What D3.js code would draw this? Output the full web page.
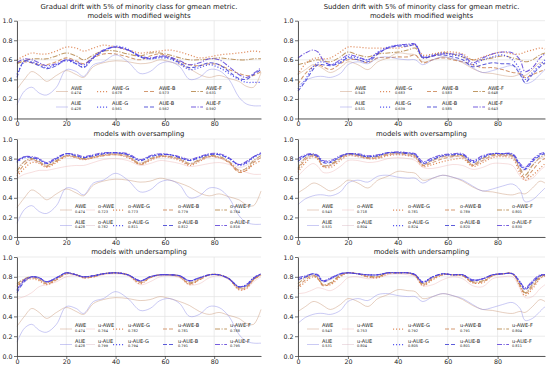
<!DOCTYPE html>
<html>
<head>
<meta charset="utf-8">
<script src="https://cdn.jsdelivr.net/npm/d3@7"></script>
<style>
  body { margin: 0; background: #fff; }
  text { font-family: "DejaVu Sans", sans-serif; }
</style>
</head>
<body>
<svg id="chart" width="550" height="367"></svg>
<script>
// x positions (drift chunk index) of the sampled points
const xGradual = [0, 3, 6, 9, 12, 16, 20, 24, 27, 31, 35, 40, 45, 50, 54, 58, 62, 66, 70, 74, 78, 82, 86, 90, 93, 96, 99];
const xSudden = [0, 3, 6, 8, 10, 13, 17, 20, 24, 28, 32, 36, 40, 44, 47, 50, 54, 58, 62, 66, 70, 74, 78, 82, 86, 89, 91, 94, 97, 99];
const xTicks = [0, 20, 40, 60, 80];
const yTicks = [0, 0.2, 0.4, 0.6, 0.8, 1.0];

const titles = [
  ['Gradual drift with 5% of minority class for gmean metric.', 'models with modified weights'],
  ['Sudden drift with 5% of minority class for gmean metric.', 'models with modified weights'],
  ['models with oversampling'],
  ['models with oversampling'],
  ['models with undersampling'],
  ['models with undersampling'],
];

// gradual drift, base models
const gAWE = [0.30, 0.40, 0.48, 0.44, 0.38, 0.44, 0.49, 0.45, 0.42, 0.53, 0.57, 0.59, 0.58, 0.56, 0.57, 0.60, 0.58, 0.55, 0.51, 0.45, 0.42, 0.44, 0.41, 0.38, 0.33, 0.32, 0.47];
const gAUE = [0.14, 0.28, 0.32, 0.26, 0.24, 0.32, 0.50, 0.48, 0.43, 0.55, 0.58, 0.65, 0.58, 0.46, 0.48, 0.56, 0.58, 0.53, 0.40, 0.42, 0.50, 0.49, 0.40, 0.22, 0.15, 0.13, 0.13];
// gradual drift, modified weights
const gAWE_G = [0.60, 0.64, 0.67, 0.66, 0.66, 0.69, 0.73, 0.72, 0.69, 0.72, 0.75, 0.73, 0.70, 0.67, 0.68, 0.69, 0.70, 0.68, 0.65, 0.62, 0.63, 0.65, 0.66, 0.67, 0.68, 0.69, 0.68];
const gAWE_B = [0.57, 0.58, 0.57, 0.55, 0.55, 0.58, 0.62, 0.59, 0.56, 0.62, 0.66, 0.66, 0.63, 0.60, 0.64, 0.66, 0.63, 0.58, 0.55, 0.54, 0.56, 0.55, 0.50, 0.46, 0.44, 0.44, 0.48];
const gAWE_F = [0.56, 0.59, 0.61, 0.61, 0.61, 0.64, 0.67, 0.64, 0.60, 0.65, 0.69, 0.69, 0.66, 0.64, 0.67, 0.67, 0.65, 0.62, 0.60, 0.60, 0.61, 0.62, 0.61, 0.60, 0.60, 0.61, 0.61];
const gAUE_G = [0.45, 0.58, 0.58, 0.55, 0.52, 0.55, 0.59, 0.56, 0.53, 0.62, 0.69, 0.74, 0.71, 0.63, 0.61, 0.62, 0.61, 0.56, 0.50, 0.52, 0.55, 0.52, 0.46, 0.40, 0.37, 0.37, 0.37];
const gAUE_B = [0.42, 0.59, 0.57, 0.54, 0.51, 0.54, 0.60, 0.56, 0.52, 0.62, 0.69, 0.73, 0.70, 0.63, 0.61, 0.63, 0.62, 0.57, 0.52, 0.54, 0.57, 0.55, 0.48, 0.41, 0.40, 0.45, 0.50];
const gAUE_F = [0.57, 0.61, 0.60, 0.57, 0.54, 0.56, 0.60, 0.58, 0.55, 0.63, 0.70, 0.73, 0.70, 0.64, 0.62, 0.64, 0.63, 0.59, 0.55, 0.57, 0.61, 0.60, 0.53, 0.45, 0.42, 0.46, 0.52];
// gradual drift, oversampling
const gOAWE = [0.60, 0.64, 0.66, 0.68, 0.68, 0.70, 0.72, 0.73, 0.73, 0.76, 0.79, 0.80, 0.78, 0.73, 0.75, 0.78, 0.77, 0.75, 0.72, 0.73, 0.75, 0.76, 0.74, 0.69, 0.66, 0.64, 0.64];
const gOAUE = [0.70, 0.77, 0.78, 0.76, 0.74, 0.79, 0.83, 0.81, 0.79, 0.82, 0.84, 0.85, 0.82, 0.76, 0.79, 0.83, 0.82, 0.79, 0.75, 0.78, 0.82, 0.81, 0.77, 0.71, 0.73, 0.78, 0.81];
const gOAWE_G = [0.62, 0.70, 0.76, 0.75, 0.71, 0.76, 0.82, 0.81, 0.79, 0.81, 0.83, 0.84, 0.81, 0.74, 0.78, 0.82, 0.81, 0.78, 0.73, 0.77, 0.82, 0.81, 0.76, 0.67, 0.68, 0.74, 0.78];
const gOAWE_B = [0.64, 0.74, 0.79, 0.76, 0.72, 0.77, 0.83, 0.81, 0.79, 0.81, 0.83, 0.84, 0.82, 0.74, 0.79, 0.82, 0.82, 0.79, 0.74, 0.78, 0.82, 0.81, 0.76, 0.66, 0.68, 0.76, 0.81];
const gOAWE_F = [0.67, 0.77, 0.80, 0.77, 0.73, 0.78, 0.83, 0.82, 0.80, 0.82, 0.84, 0.85, 0.83, 0.75, 0.80, 0.83, 0.82, 0.80, 0.75, 0.79, 0.83, 0.82, 0.77, 0.68, 0.70, 0.78, 0.83];
const gOAUE_G = [0.76, 0.81, 0.81, 0.79, 0.75, 0.80, 0.85, 0.83, 0.81, 0.83, 0.85, 0.86, 0.84, 0.78, 0.82, 0.84, 0.84, 0.81, 0.78, 0.81, 0.84, 0.84, 0.80, 0.73, 0.75, 0.81, 0.85];
const gOAUE_B = [0.77, 0.82, 0.81, 0.79, 0.75, 0.80, 0.85, 0.83, 0.81, 0.83, 0.85, 0.86, 0.84, 0.78, 0.82, 0.84, 0.84, 0.81, 0.78, 0.81, 0.84, 0.84, 0.80, 0.74, 0.76, 0.82, 0.85];
const gOAUE_F = [0.78, 0.82, 0.82, 0.80, 0.76, 0.81, 0.85, 0.84, 0.82, 0.84, 0.86, 0.86, 0.85, 0.79, 0.83, 0.85, 0.84, 0.82, 0.79, 0.82, 0.85, 0.85, 0.81, 0.74, 0.77, 0.82, 0.86];
// gradual drift, undersampling
const gUAWE = [0.58, 0.60, 0.64, 0.70, 0.72, 0.75, 0.80, 0.81, 0.79, 0.80, 0.82, 0.83, 0.81, 0.72, 0.75, 0.80, 0.81, 0.79, 0.72, 0.73, 0.79, 0.81, 0.77, 0.67, 0.68, 0.75, 0.80];
const gUAUE = [0.68, 0.76, 0.79, 0.78, 0.74, 0.78, 0.83, 0.82, 0.80, 0.81, 0.83, 0.84, 0.82, 0.75, 0.80, 0.82, 0.82, 0.80, 0.75, 0.78, 0.82, 0.82, 0.78, 0.70, 0.72, 0.79, 0.83];
const gUAWE_G = [0.70, 0.76, 0.78, 0.76, 0.72, 0.77, 0.83, 0.82, 0.79, 0.80, 0.83, 0.84, 0.82, 0.73, 0.79, 0.82, 0.82, 0.80, 0.72, 0.77, 0.82, 0.82, 0.78, 0.67, 0.68, 0.77, 0.82];
const gUAWE_B = [0.71, 0.77, 0.79, 0.77, 0.73, 0.77, 0.83, 0.82, 0.79, 0.80, 0.83, 0.84, 0.82, 0.74, 0.79, 0.82, 0.82, 0.80, 0.73, 0.77, 0.82, 0.82, 0.78, 0.68, 0.69, 0.77, 0.82];
const gUAWE_F = [0.73, 0.78, 0.80, 0.78, 0.74, 0.78, 0.84, 0.82, 0.80, 0.81, 0.83, 0.84, 0.82, 0.75, 0.80, 0.82, 0.82, 0.81, 0.74, 0.78, 0.82, 0.82, 0.78, 0.69, 0.70, 0.78, 0.82];
const gUAUE_G = [0.66, 0.76, 0.80, 0.79, 0.75, 0.79, 0.84, 0.82, 0.80, 0.81, 0.83, 0.84, 0.82, 0.76, 0.80, 0.82, 0.82, 0.81, 0.76, 0.79, 0.82, 0.82, 0.78, 0.70, 0.72, 0.79, 0.83];
const gUAUE_B = [0.64, 0.75, 0.80, 0.79, 0.75, 0.79, 0.84, 0.82, 0.80, 0.81, 0.83, 0.84, 0.82, 0.76, 0.80, 0.82, 0.82, 0.81, 0.76, 0.79, 0.82, 0.82, 0.78, 0.70, 0.71, 0.78, 0.83];
const gUAUE_F = [0.67, 0.77, 0.80, 0.79, 0.75, 0.79, 0.84, 0.82, 0.80, 0.81, 0.83, 0.84, 0.82, 0.76, 0.80, 0.82, 0.82, 0.81, 0.76, 0.79, 0.82, 0.82, 0.78, 0.70, 0.72, 0.79, 0.83];

// sudden drift, base models
const sAWE = [0.45, 0.50, 0.55, 0.54, 0.51, 0.47, 0.52, 0.58, 0.55, 0.50, 0.58, 0.62, 0.67, 0.66, 0.65, 0.58, 0.60, 0.63, 0.61, 0.57, 0.51, 0.47, 0.46, 0.44, 0.43, 0.45, 0.44, 0.50, 0.57, 0.55];
const sAUE = [0.33, 0.39, 0.42, 0.43, 0.43, 0.42, 0.46, 0.55, 0.58, 0.56, 0.62, 0.63, 0.61, 0.60, 0.60, 0.55, 0.60, 0.63, 0.61, 0.58, 0.52, 0.47, 0.49, 0.52, 0.54, 0.48, 0.36, 0.38, 0.45, 0.50];
// sudden drift, modified weights
const sAWE_G = [0.45, 0.56, 0.61, 0.62, 0.61, 0.62, 0.68, 0.73, 0.73, 0.72, 0.72, 0.72, 0.72, 0.74, 0.75, 0.65, 0.66, 0.68, 0.68, 0.66, 0.60, 0.63, 0.66, 0.68, 0.66, 0.66, 0.68, 0.70, 0.72, 0.71];
const sAWE_B = [0.35, 0.46, 0.53, 0.55, 0.53, 0.50, 0.56, 0.60, 0.60, 0.57, 0.62, 0.62, 0.63, 0.63, 0.65, 0.57, 0.60, 0.62, 0.60, 0.58, 0.55, 0.52, 0.52, 0.50, 0.47, 0.46, 0.42, 0.45, 0.48, 0.50];
const sAWE_F = [0.55, 0.57, 0.59, 0.60, 0.59, 0.58, 0.63, 0.68, 0.65, 0.63, 0.66, 0.67, 0.68, 0.70, 0.72, 0.62, 0.64, 0.67, 0.66, 0.63, 0.60, 0.60, 0.62, 0.64, 0.62, 0.60, 0.58, 0.60, 0.65, 0.67];
const sAUE_G = [0.30, 0.40, 0.53, 0.57, 0.58, 0.55, 0.58, 0.63, 0.62, 0.60, 0.68, 0.73, 0.75, 0.75, 0.76, 0.63, 0.65, 0.67, 0.65, 0.63, 0.55, 0.60, 0.63, 0.65, 0.60, 0.50, 0.40, 0.47, 0.55, 0.60];
const sAUE_B = [0.28, 0.38, 0.50, 0.55, 0.55, 0.54, 0.57, 0.62, 0.60, 0.58, 0.66, 0.72, 0.74, 0.74, 0.75, 0.62, 0.64, 0.65, 0.63, 0.60, 0.53, 0.55, 0.57, 0.56, 0.55, 0.45, 0.37, 0.45, 0.53, 0.57];
const sAUE_F = [0.62, 0.67, 0.70, 0.68, 0.60, 0.55, 0.60, 0.65, 0.63, 0.60, 0.67, 0.72, 0.75, 0.76, 0.76, 0.63, 0.64, 0.66, 0.66, 0.65, 0.57, 0.62, 0.66, 0.68, 0.67, 0.60, 0.48, 0.52, 0.62, 0.66];
// sudden drift, oversampling
const sOAWE = [0.62, 0.70, 0.75, 0.72, 0.66, 0.66, 0.72, 0.78, 0.78, 0.76, 0.77, 0.80, 0.81, 0.80, 0.78, 0.71, 0.70, 0.72, 0.74, 0.73, 0.69, 0.71, 0.75, 0.75, 0.73, 0.62, 0.58, 0.60, 0.68, 0.72];
const sOAUE = [0.75, 0.80, 0.82, 0.80, 0.73, 0.73, 0.79, 0.83, 0.82, 0.80, 0.82, 0.84, 0.84, 0.83, 0.81, 0.74, 0.78, 0.82, 0.82, 0.81, 0.74, 0.78, 0.82, 0.83, 0.82, 0.70, 0.68, 0.74, 0.80, 0.82];
const sOAWE_G = [0.66, 0.76, 0.82, 0.79, 0.72, 0.71, 0.78, 0.83, 0.82, 0.80, 0.80, 0.83, 0.84, 0.83, 0.81, 0.72, 0.74, 0.77, 0.79, 0.80, 0.72, 0.76, 0.81, 0.82, 0.80, 0.65, 0.58, 0.63, 0.70, 0.75];
const sOAWE_B = [0.68, 0.79, 0.83, 0.80, 0.72, 0.73, 0.80, 0.84, 0.83, 0.80, 0.81, 0.84, 0.85, 0.84, 0.82, 0.73, 0.76, 0.80, 0.82, 0.82, 0.73, 0.78, 0.83, 0.83, 0.82, 0.68, 0.60, 0.68, 0.77, 0.80];
const sOAWE_F = [0.70, 0.81, 0.84, 0.81, 0.73, 0.74, 0.81, 0.85, 0.84, 0.81, 0.82, 0.85, 0.86, 0.85, 0.83, 0.74, 0.78, 0.82, 0.83, 0.83, 0.74, 0.80, 0.84, 0.84, 0.83, 0.70, 0.63, 0.73, 0.81, 0.84];
const sOAUE_G = [0.78, 0.83, 0.84, 0.82, 0.77, 0.77, 0.82, 0.85, 0.84, 0.82, 0.83, 0.86, 0.86, 0.86, 0.84, 0.76, 0.80, 0.83, 0.84, 0.84, 0.77, 0.82, 0.85, 0.85, 0.84, 0.74, 0.70, 0.78, 0.84, 0.86];
const sOAUE_B = [0.77, 0.83, 0.84, 0.82, 0.76, 0.76, 0.82, 0.85, 0.84, 0.82, 0.83, 0.86, 0.86, 0.85, 0.84, 0.75, 0.79, 0.83, 0.84, 0.84, 0.76, 0.81, 0.85, 0.85, 0.84, 0.73, 0.69, 0.77, 0.83, 0.85];
const sOAUE_F = [0.80, 0.84, 0.85, 0.83, 0.78, 0.78, 0.83, 0.85, 0.85, 0.83, 0.84, 0.86, 0.87, 0.86, 0.85, 0.77, 0.81, 0.84, 0.85, 0.85, 0.78, 0.83, 0.85, 0.85, 0.85, 0.75, 0.71, 0.79, 0.85, 0.86];
// sudden drift, undersampling
const sUAWE = [0.63, 0.64, 0.67, 0.69, 0.68, 0.66, 0.72, 0.79, 0.80, 0.78, 0.79, 0.82, 0.83, 0.82, 0.80, 0.71, 0.72, 0.77, 0.80, 0.78, 0.71, 0.70, 0.78, 0.80, 0.80, 0.68, 0.59, 0.60, 0.68, 0.72];
const sUAUE = [0.76, 0.79, 0.82, 0.80, 0.75, 0.77, 0.82, 0.84, 0.83, 0.82, 0.82, 0.84, 0.84, 0.84, 0.82, 0.74, 0.79, 0.83, 0.82, 0.82, 0.76, 0.78, 0.82, 0.83, 0.83, 0.74, 0.68, 0.74, 0.81, 0.82];
const sUAWE_G = [0.68, 0.75, 0.80, 0.78, 0.72, 0.72, 0.80, 0.84, 0.83, 0.80, 0.79, 0.83, 0.84, 0.84, 0.81, 0.71, 0.77, 0.82, 0.82, 0.81, 0.74, 0.74, 0.81, 0.83, 0.83, 0.70, 0.61, 0.68, 0.78, 0.81];
const sUAWE_B = [0.70, 0.77, 0.81, 0.78, 0.71, 0.73, 0.81, 0.84, 0.83, 0.80, 0.80, 0.84, 0.84, 0.84, 0.81, 0.72, 0.78, 0.82, 0.82, 0.81, 0.74, 0.75, 0.81, 0.83, 0.83, 0.71, 0.63, 0.70, 0.79, 0.82];
const sUAWE_F = [0.73, 0.79, 0.82, 0.79, 0.72, 0.74, 0.82, 0.84, 0.83, 0.81, 0.80, 0.84, 0.84, 0.84, 0.82, 0.73, 0.79, 0.83, 0.82, 0.82, 0.75, 0.76, 0.82, 0.83, 0.83, 0.72, 0.64, 0.72, 0.80, 0.82];
const sUAUE_G = [0.78, 0.80, 0.83, 0.81, 0.76, 0.78, 0.83, 0.84, 0.83, 0.82, 0.82, 0.84, 0.84, 0.84, 0.82, 0.75, 0.80, 0.83, 0.82, 0.82, 0.77, 0.78, 0.82, 0.83, 0.83, 0.75, 0.68, 0.75, 0.81, 0.82];
const sUAUE_B = [0.77, 0.80, 0.83, 0.81, 0.75, 0.78, 0.83, 0.84, 0.83, 0.82, 0.82, 0.84, 0.84, 0.84, 0.82, 0.74, 0.80, 0.83, 0.82, 0.82, 0.76, 0.78, 0.82, 0.83, 0.83, 0.74, 0.67, 0.74, 0.81, 0.82];
const sUAUE_F = [0.79, 0.81, 0.83, 0.82, 0.76, 0.79, 0.83, 0.84, 0.83, 0.82, 0.82, 0.84, 0.84, 0.84, 0.82, 0.75, 0.80, 0.83, 0.82, 0.82, 0.77, 0.78, 0.82, 0.83, 0.83, 0.75, 0.69, 0.76, 0.82, 0.82];

// mean scores shown in the legends
const meansGradualMW = { AWE: 0.474, 'AWE-G': 0.678, 'AWE-B': 0.573, 'AWE-F': 0.631, AUE: 0.428, 'AUE-G': 0.561, 'AUE-B': 0.562, 'AUE-F': 0.592 };
const meansSuddenMW = { AWE: 0.543, 'AWE-G': 0.683, 'AWE-B': 0.583, 'AWE-F': 0.648, AUE: 0.531, 'AUE-G': 0.639, 'AUE-B': 0.585, 'AUE-F': 0.643 };
const meansGradualO = { AWE: 0.474, 'o-AWE': 0.723, 'o-AWE-G': 0.773, 'o-AWE-B': 0.779, 'o-AWE-F': 0.784, AUE: 0.428, 'o-AUE': 0.782, 'o-AUE-G': 0.811, 'o-AUE-B': 0.812, 'o-AUE-F': 0.816 };
const meansSuddenO = { AWE: 0.543, 'o-AWE': 0.718, 'o-AWE-G': 0.781, 'o-AWE-B': 0.789, 'o-AWE-F': 0.801, AUE: 0.531, 'o-AUE': 0.804, 'o-AUE-G': 0.824, 'o-AUE-B': 0.820, 'o-AUE-F': 0.830 };
const meansGradualU = { AWE: 0.474, 'u-AWE': 0.764, 'u-AWE-G': 0.782, 'u-AWE-B': 0.781, 'u-AWE-F': 0.788, AUE: 0.428, 'u-AUE': 0.799, 'u-AUE-G': 0.794, 'u-AUE-B': 0.791, 'u-AUE-F': 0.795 };
const meansSuddenU = { AWE: 0.543, 'u-AWE': 0.753, 'u-AWE-G': 0.792, 'u-AWE-B': 0.791, 'u-AWE-F': 0.804, AUE: 0.531, 'u-AUE': 0.804, 'u-AUE-G': 0.805, 'u-AUE-B': 0.801, 'u-AUE-F': 0.811 };

// line look per family (AWE / AUE) and variant
const lineStyles = {
  AWE: {
    base: { color: '#c89474', dash: null, width: 1, opacity: 0.45 },
    plain: { color: '#e8a4a4', dash: null, width: 1, opacity: 0.35 },
    G: { color: '#dc7a44', dash: '1.1,1.9', width: 1.25, opacity: 0.85 },
    B: { color: '#c9804e', dash: '4,2', width: 1.05, opacity: 0.8 },
    F: { color: '#b08040', dash: '5,1.5,1.2,1.5', width: 1.05, opacity: 0.8 },
  },
  AUE: {
    base: { color: '#8a8ae6', dash: null, width: 1, opacity: 0.45 },
    plain: { color: '#d4b0bc', dash: null, width: 1, opacity: 0.4 },
    G: { color: '#3a3aee', dash: '1.1,1.9', width: 1.25, opacity: 0.85 },
    B: { color: '#4040d4', dash: '4,2', width: 1.05, opacity: 0.85 },
    F: { color: '#5e42d8', dash: '5,1.5,1.2,1.5', width: 1.05, opacity: 0.85 },
  },
};

const colX = [[17, 261], [298, 545]];
const rowY = [[20.7, 118.5], [139, 237], [257, 356]];
const titleY = [[8.5, 17.5], [135.5], [253.5]];
const legendTextX = [
  [[71, 112, 159, 206], [355, 395, 442, 488]],
  [[75, 98, 128, 178, 230], [322, 357, 408, 460, 512]],
  [[75, 98, 128, 178, 230], [322, 357, 408, 460, 512]],
];

const mk = (label, family, variant, values, means) => ({ label, family, variant, values, mean: means[label] });

const panels = [
  {
    row: 0, col: 0, xs: xGradual, title: titles[0],
    legend: [['AWE', 'AUE'], ['AWE-G', 'AUE-G'], ['AWE-B', 'AUE-B'], ['AWE-F', 'AUE-F']],
    series: [
      mk('AWE', 'AWE', 'base', gAWE, meansGradualMW), mk('AUE', 'AUE', 'base', gAUE, meansGradualMW),
      mk('AWE-G', 'AWE', 'G', gAWE_G, meansGradualMW), mk('AWE-B', 'AWE', 'B', gAWE_B, meansGradualMW),
      mk('AWE-F', 'AWE', 'F', gAWE_F, meansGradualMW), mk('AUE-G', 'AUE', 'G', gAUE_G, meansGradualMW),
      mk('AUE-B', 'AUE', 'B', gAUE_B, meansGradualMW), mk('AUE-F', 'AUE', 'F', gAUE_F, meansGradualMW),
    ],
  },
  {
    row: 0, col: 1, xs: xSudden, title: titles[1],
    legend: [['AWE', 'AUE'], ['AWE-G', 'AUE-G'], ['AWE-B', 'AUE-B'], ['AWE-F', 'AUE-F']],
    series: [
      mk('AWE', 'AWE', 'base', sAWE, meansSuddenMW), mk('AUE', 'AUE', 'base', sAUE, meansSuddenMW),
      mk('AWE-G', 'AWE', 'G', sAWE_G, meansSuddenMW), mk('AWE-B', 'AWE', 'B', sAWE_B, meansSuddenMW),
      mk('AWE-F', 'AWE', 'F', sAWE_F, meansSuddenMW), mk('AUE-G', 'AUE', 'G', sAUE_G, meansSuddenMW),
      mk('AUE-B', 'AUE', 'B', sAUE_B, meansSuddenMW), mk('AUE-F', 'AUE', 'F', sAUE_F, meansSuddenMW),
    ],
  },
];

function resampledPanel(row, col, xs, title, prefix, means, base, sets) {
  const [awe, aue, aweG, aweB, aweF, aueG, aueB, aueF] = sets;
  const p = prefix;
  return {
    row, col, xs, title,
    legend: [['AWE', 'AUE'], [p + 'AWE', p + 'AUE'], [p + 'AWE-G', p + 'AUE-G'], [p + 'AWE-B', p + 'AUE-B'], [p + 'AWE-F', p + 'AUE-F']],
    series: [
      mk('AWE', 'AWE', 'base', base[0], means), mk('AUE', 'AUE', 'base', base[1], means),
      mk(p + 'AWE', 'AWE', 'plain', awe, means), mk(p + 'AUE', 'AUE', 'plain', aue, means),
      mk(p + 'AWE-G', 'AWE', 'G', aweG, means), mk(p + 'AWE-B', 'AWE', 'B', aweB, means),
      mk(p + 'AWE-F', 'AWE', 'F', aweF, means), mk(p + 'AUE-G', 'AUE', 'G', aueG, means),
      mk(p + 'AUE-B', 'AUE', 'B', aueB, means), mk(p + 'AUE-F', 'AUE', 'F', aueF, means),
    ],
  };
}

panels.push(resampledPanel(1, 0, xGradual, titles[2], 'o-', meansGradualO, [gAWE, gAUE],
  [gOAWE, gOAUE, gOAWE_G, gOAWE_B, gOAWE_F, gOAUE_G, gOAUE_B, gOAUE_F]));
panels.push(resampledPanel(1, 1, xSudden, titles[3], 'o-', meansSuddenO, [sAWE, sAUE],
  [sOAWE, sOAUE, sOAWE_G, sOAWE_B, sOAWE_F, sOAUE_G, sOAUE_B, sOAUE_F]));
panels.push(resampledPanel(2, 0, xGradual, titles[4], 'u-', meansGradualU, [gAWE, gAUE],
  [gUAWE, gUAUE, gUAWE_G, gUAWE_B, gUAWE_F, gUAUE_G, gUAUE_B, gUAUE_F]));
panels.push(resampledPanel(2, 1, xSudden, titles[5], 'u-', meansSuddenU, [sAWE, sAUE],
  [sUAWE, sUAUE, sUAWE_G, sUAWE_B, sUAWE_F, sUAUE_G, sUAUE_B, sUAUE_F]));

const svg = d3.select('#chart');

const applyStroke = (sel, st) =>
  sel
    .attr('fill', 'none')
    .attr('stroke', st.color)
    .attr('stroke-width', st.width)
    .attr('stroke-opacity', st.opacity)
    .attr('stroke-dasharray', st.dash);

const drawPanel = (p) => {
  const [x0, x1] = colX[p.col];
  const [yTop, yBot] = rowY[p.row];
  const x = d3.scaleLinear().domain([0, 99]).range([x0, x1]);
  const y = d3.scaleLinear().domain([0, 1]).range([yBot, yTop]);
  const g = svg.append('g');

  // grid
  g.selectAll('.gx').data(xTicks).join('line')
    .attr('x1', (d) => x(d)).attr('x2', (d) => x(d))
    .attr('y1', yTop).attr('y2', yBot)
    .attr('stroke', '#e3e3e3').attr('stroke-width', 0.7);
  g.selectAll('.gy').data(yTicks).join('line')
    .attr('x1', x0).attr('x2', x1)
    .attr('y1', (d) => y(d)).attr('y2', (d) => y(d))
    .attr('stroke', '#e3e3e3').attr('stroke-width', 0.7);

  // lines
  const line = d3.line()
    .x((d) => x(d[0]))
    .y((d) => y(d[1]))
    .curve(d3.curveCatmullRom.alpha(0.5));
  const order = ['base', 'plain', 'B', 'F', 'G'];
  const sorted = [...p.series].sort((a, b) => {
    if (a.family !== b.family) return a.family === 'AWE' ? -1 : 1;
    return order.indexOf(a.variant) - order.indexOf(b.variant);
  });
  sorted.forEach((s) => {
    const pts = p.xs.map((xv, i) => [xv, s.values[i]]);
    applyStroke(g.append('path').datum(pts).attr('d', line), lineStyles[s.family][s.variant]);
  });

  // axes
  const xAxis = g.append('g')
    .attr('transform', `translate(0,${yBot})`)
    .call(d3.axisBottom(x).tickValues(xTicks).tickSize(3).tickSizeOuter(0).tickPadding(0.5));
  const yAxis = g.append('g')
    .attr('transform', `translate(${x0},0)`)
    .call(d3.axisLeft(y).tickValues(yTicks).tickFormat(d3.format('.1f')).tickSize(3).tickSizeOuter(0).tickPadding(1.5));
  [xAxis, yAxis].forEach((a) => {
    a.select('.domain').attr('stroke', '#333').attr('stroke-width', 0.8);
    a.selectAll('.tick line').attr('stroke', '#333').attr('stroke-width', 0.7);
    a.selectAll('.tick text').attr('font-size', 6.3).attr('fill', '#222')
      .attr('font-family', '"DejaVu Sans", sans-serif');
  });

  // title
  const cx = (x0 + x1) / 2;
  p.title.forEach((t, i) => {
    svg.append('text')
      .attr('x', cx).attr('y', titleY[p.row][i])
      .attr('text-anchor', 'middle')
      .attr('font-size', 6.9).attr('fill', '#1a1a1a')
      .text(t);
  });

  // legend
  const byLabel = new Map(p.series.map((s) => [s.label, s]));
  const textX = legendTextX[p.row][p.col];
  const rowsOff = [yBot - 29, yBot - 13.5];
  p.legend.forEach((col, ci) => {
    col.forEach((label, ri) => {
      const s = byLabel.get(label);
      const st = lineStyles[s.family][s.variant];
      const tx = textX[ci];
      const by = rowsOff[ri];
      const hx1 = tx - 3;
      const hx0 = ci === 1 && p.row > 0 && p.col === 0 ? hx1 - 9 : hx1 - 12;
      applyStroke(
        g.append('line').attr('x1', hx0).attr('x2', hx1).attr('y1', by + 2).attr('y2', by + 2),
        st
      );
      g.append('text').attr('x', tx).attr('y', by)
        .attr('font-size', 5).attr('fill', '#222').text(label);
      g.append('text').attr('x', tx).attr('y', by + 4.6)
        .attr('font-size', 3.5).attr('fill', '#222').text(d3.format('.3f')(s.mean));
    });
  });
};

panels.forEach(drawPanel);
</script>
</body>
</html>
